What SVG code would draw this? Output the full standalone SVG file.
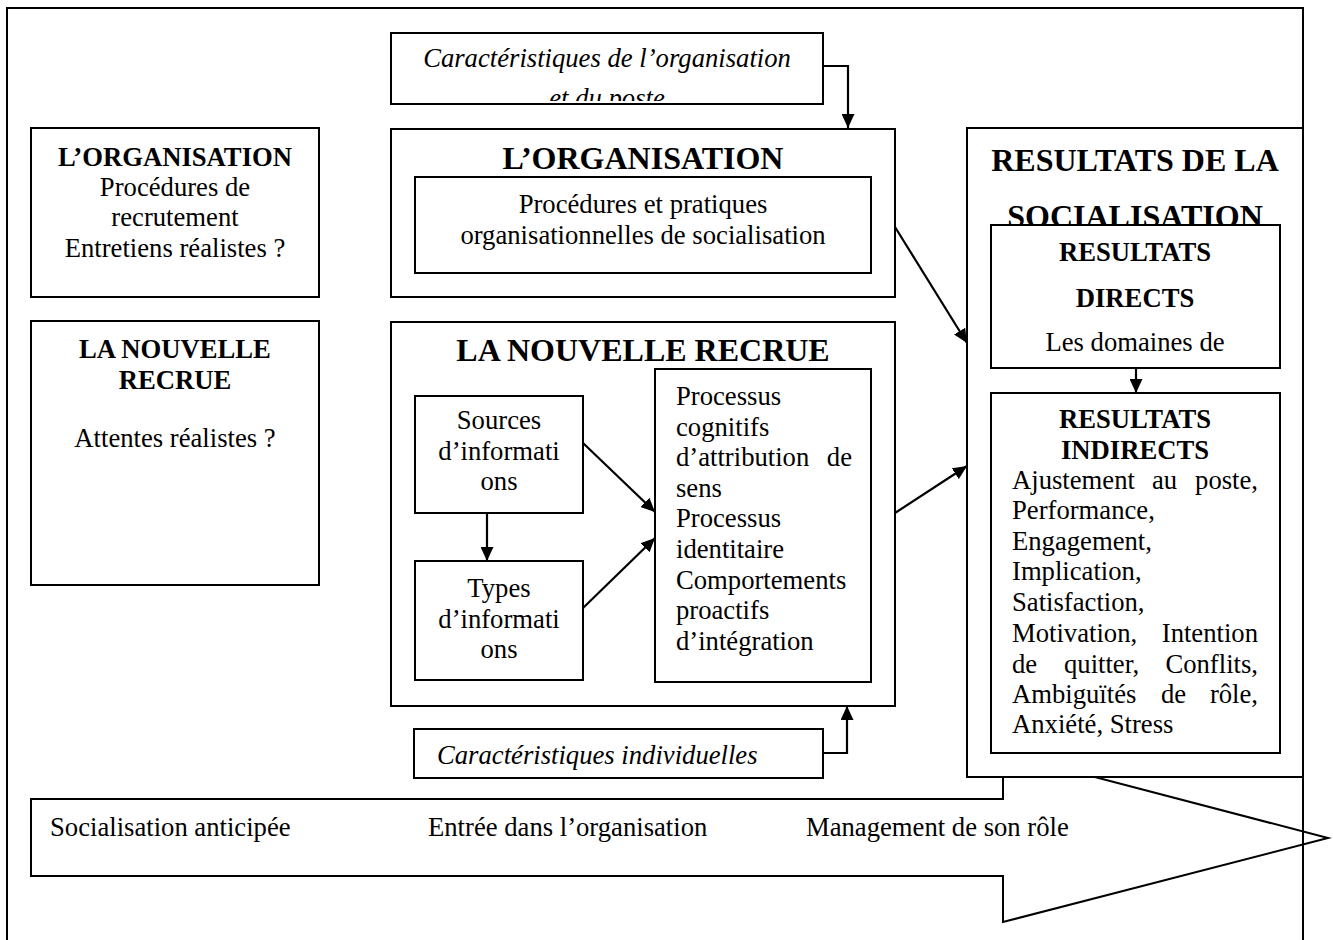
<svg xmlns="http://www.w3.org/2000/svg" width="1333" height="940" viewBox="0 0 1333 940">
  <style>
    .box { fill: #fff; stroke: #000; stroke-width: 2; }
    .frame { fill: none; stroke: #000; stroke-width: 2; }
    .link { fill: none; stroke: #000; stroke-width: 2.2; }
    text { font-family: "Liberation Serif", "Times New Roman", serif; fill: #000; }
    .t { font-size: 26.67px; }
    .b { font-size: 26.67px; font-weight: bold; }
    .h { font-size: 32px; font-weight: bold; }
    .i { font-size: 26.67px; font-style: italic; }
    .c { text-anchor: middle; }
    .e { text-anchor: end; }
  </style>
  <defs>
    <marker id="arrow" markerUnits="userSpaceOnUse" markerWidth="15" markerHeight="13" refX="14" refY="6.5" orient="auto">
      <path d="M0,0 L14,6.5 L0,13 z" fill="#000"/>
    </marker>
    <clipPath id="clipOrgTop"><rect x="392" y="34" width="430" height="67"/></clipPath>
    <clipPath id="clipIndiv"><rect x="415" y="730" width="407" height="47"/></clipPath>
  </defs>

  <!-- timeline arrow along the bottom -->
  <g id="timeline">
    <polygon class="box" points="31,799 1003,799 1003,753 1328,838 1003,922 1003,876 31,876"/>
    <text class="t" x="50" y="836">Socialisation anticipée</text>
    <text class="t" x="428" y="836">Entrée dans l’organisation</text>
    <text class="t" x="806" y="836">Management de son rôle</text>
  </g>

  <!-- left column -->
  <g id="org-left">
    <rect class="box" x="31" y="128" width="288" height="169"/>
    <text class="b c" x="175" y="166">L’ORGANISATION</text>
    <text class="t c" x="175" y="196">Procédures de</text>
    <text class="t c" x="175" y="226">recrutement</text>
    <text class="t c" x="175" y="257">Entretiens réalistes ?</text>
  </g>
  <g id="recrue-left">
    <rect class="box" x="31" y="321" width="288" height="264"/>
    <text class="b c" x="175" y="358">LA NOUVELLE</text>
    <text class="b c" x="175" y="389">RECRUE</text>
    <text class="t c" x="175" y="447">Attentes réalistes ?</text>
  </g>

  <!-- context boxes -->
  <g id="carac-org">
    <rect class="box" x="391" y="33" width="432" height="71"/>
    <g clip-path="url(#clipOrgTop)">
      <text class="i c" x="607" y="67">Caractéristiques de l’organisation</text>
      <text class="i c" x="607" y="107">et du poste</text>
    </g>
  </g>
  <g id="carac-indiv">
    <rect class="box" x="414" y="729" width="409" height="49"/>
    <g clip-path="url(#clipIndiv)">
      <text class="i" x="437" y="764">Caractéristiques individuelles</text>
    </g>
  </g>

  <!-- centre column -->
  <g id="org-centre">
    <rect class="box" x="391" y="129" width="504" height="168"/>
    <text class="h c" x="643" y="169">L’ORGANISATION</text>
    <rect class="box" x="415" y="177" width="456" height="96"/>
    <text class="t c" x="643" y="213">Procédures et pratiques</text>
    <text class="t c" x="643" y="244">organisationnelles de socialisation</text>
  </g>

  <g id="recrue-centre">
    <rect class="box" x="391" y="322" width="504" height="384"/>
    <text class="h c" x="643" y="361">LA NOUVELLE RECRUE</text>
  </g>
  <g id="sources">
    <rect class="box" x="415" y="396" width="168" height="117"/>
    <text class="t c" x="499" y="429">Sources</text>
    <text class="t c" x="499" y="460">d’informati</text>
    <text class="t c" x="499" y="490">ons</text>
  </g>
  <g id="types">
    <rect class="box" x="415" y="561" width="168" height="119"/>
    <text class="t c" x="499" y="597">Types</text>
    <text class="t c" x="499" y="628">d’informati</text>
    <text class="t c" x="499" y="658">ons</text>
  </g>
  <g id="processus">
    <rect class="box" x="655" y="369" width="216" height="313"/>
    <text class="t" x="676" y="405">Processus</text>
    <text class="t" x="676" y="436">cognitifs</text>
    <text class="t" x="676" y="466">d’attribution</text>
    <text class="t e" x="852" y="466">de</text>
    <text class="t" x="676" y="497">sens</text>
    <text class="t" x="676" y="527">Processus</text>
    <text class="t" x="676" y="558">identitaire</text>
    <text class="t" x="676" y="589">Comportements</text>
    <text class="t" x="676" y="619">proactifs</text>
    <text class="t" x="676" y="650">d’intégration</text>
  </g>

  <!-- right column -->
  <g id="resultats">
    <rect class="box" x="967" y="128" width="336" height="649"/>
    <text class="h c" x="1135" y="171">RESULTATS DE LA</text>
    <text class="h c" x="1135" y="227">SOCIALISATION</text>
  </g>
  <g id="directs">
    <rect class="box" x="991" y="225" width="289" height="143"/>
    <text class="b c" x="1135" y="261">RESULTATS</text>
    <text class="b c" x="1135" y="307">DIRECTS</text>
    <text class="t c" x="1135" y="351">Les domaines de</text>
  </g>
  <g id="indirects">
    <rect class="box" x="991" y="393" width="289" height="360"/>
    <text class="b c" x="1135" y="428">RESULTATS</text>
    <text class="b c" x="1135" y="459">INDIRECTS</text>
    <text class="t" x="1012" y="489">Ajustement</text>
    <text class="t" x="1152" y="489">au</text>
    <text class="t e" x="1258" y="489">poste,</text>
    <text class="t" x="1012" y="519">Performance,</text>
    <text class="t" x="1012" y="550">Engagement,</text>
    <text class="t" x="1012" y="580">Implication,</text>
    <text class="t" x="1012" y="611">Satisfaction,</text>
    <text class="t" x="1012" y="642">Motivation,</text>
    <text class="t e" x="1258" y="642">Intention</text>
    <text class="t" x="1012" y="673">de</text>
    <text class="t" x="1064" y="673">quitter,</text>
    <text class="t e" x="1258" y="673">Conflits,</text>
    <text class="t" x="1012" y="703">Ambiguïtés</text>
    <text class="t" x="1161" y="703">de</text>
    <text class="t e" x="1258" y="703">rôle,</text>
    <text class="t" x="1012" y="733">Anxiété, Stress</text>
  </g>

  <!-- connectors -->
  <g id="connectors">
    <polyline class="link" points="823,66 848,66 848,128" marker-end="url(#arrow)"/>
    <polyline class="link" points="823,753 847,753 847,706" marker-end="url(#arrow)"/>
    <line class="link" x1="895" y1="227" x2="967" y2="343" marker-end="url(#arrow)"/>
    <line class="link" x1="895" y1="513" x2="967" y2="466" marker-end="url(#arrow)"/>
    <line class="link" x1="583" y1="443" x2="655" y2="512" marker-end="url(#arrow)"/>
    <line class="link" x1="583" y1="608" x2="655" y2="538" marker-end="url(#arrow)"/>
    <line class="link" x1="487" y1="513" x2="487" y2="561" marker-end="url(#arrow)"/>
    <line class="link" x1="1136" y1="368" x2="1136" y2="393" marker-end="url(#arrow)"/>
  </g>

  <!-- page frame -->
  <polyline class="frame" points="7,940 7,8 1303,8 1303,940"/>
</svg>
